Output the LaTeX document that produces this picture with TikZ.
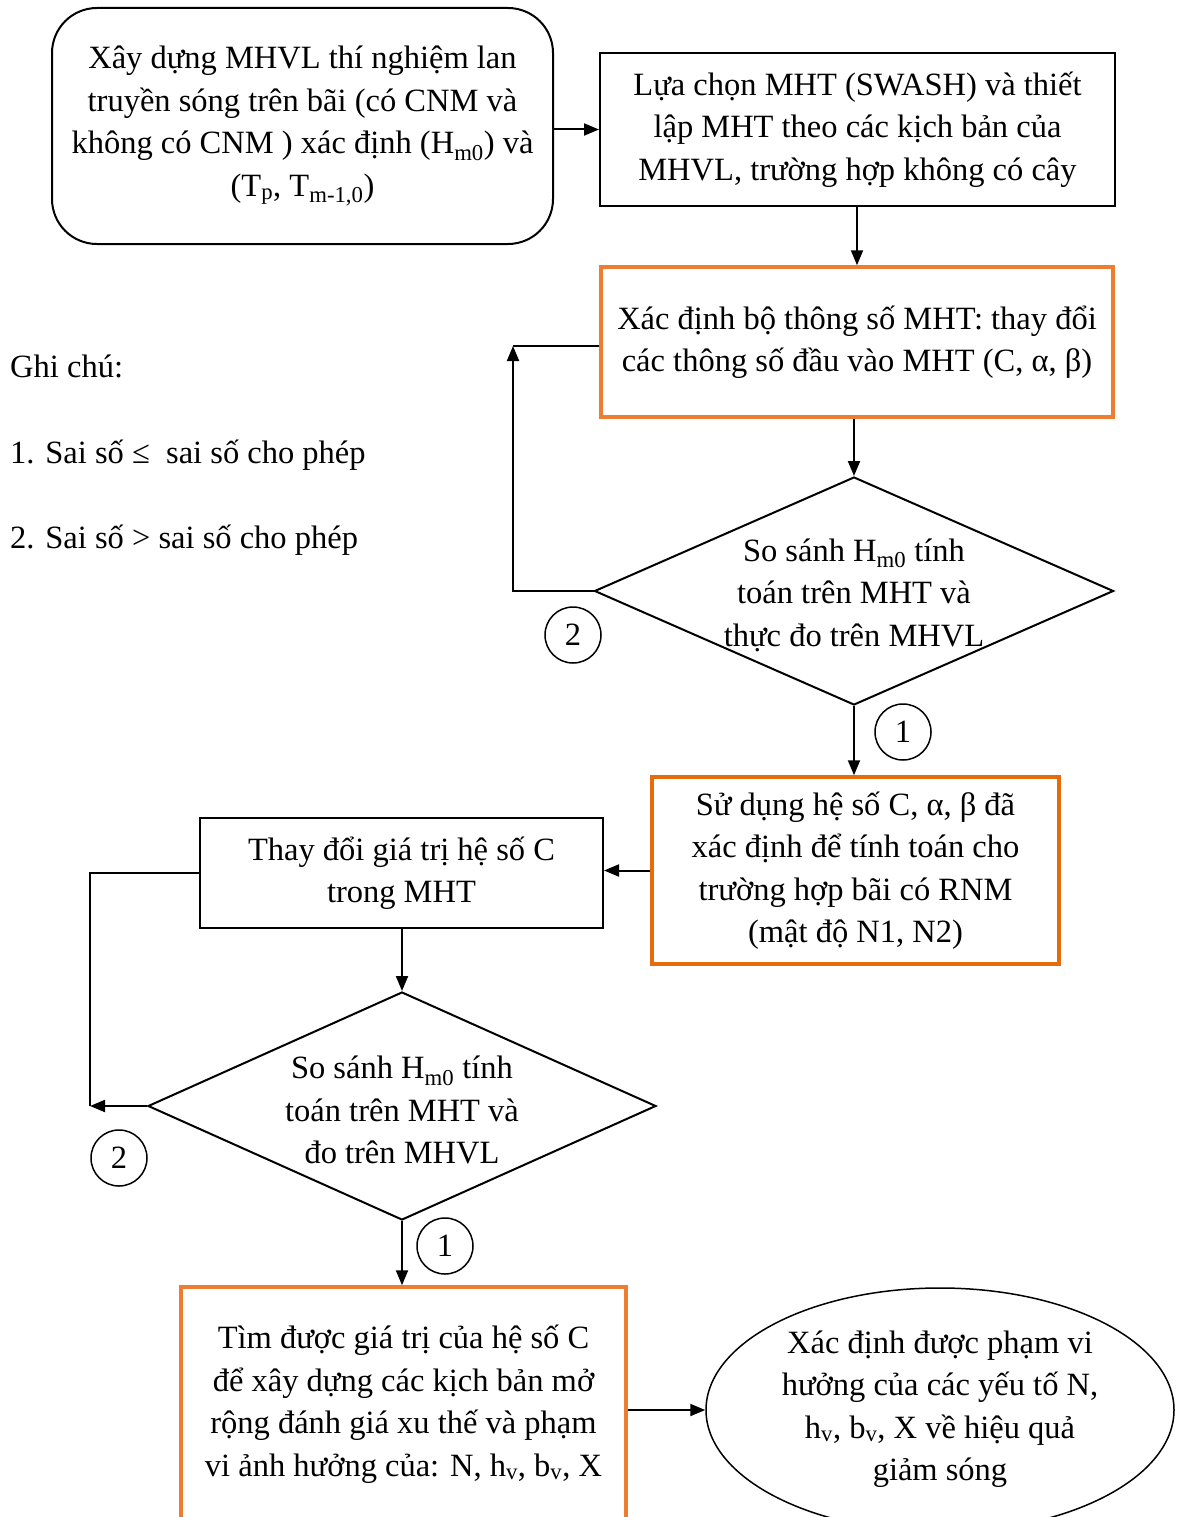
\documentclass[tikz,border=0pt]{standalone}
\usepackage{fontspec}
\setmainfont{Liberation Serif}
\usetikzlibrary{arrows.meta,shapes.geometric}
\definecolor{org}{HTML}{ED7D31}
\definecolor{orgd}{HTML}{E46C0A}
\begin{document}
\begin{tikzpicture}[x=1pt,y=-1pt,
 every node/.style={font=\fontsize{32.5}{42.5}\selectfont},
 txt/.style={align=center, inner sep=0},
 box/.style={draw, line width=2pt, inner sep=0, align=center},
 obox/.style={draw=org, line width=3.5pt, inner sep=0, align=center},
 arr/.style={line width=2pt, -{Triangle[length=15pt,width=12pt]}},
 ln/.style={line width=2pt},
 num/.style={draw, circle, line width=1.5pt, minimum size=56pt, inner sep=0}]
\useasboundingbox (0,0) rectangle (1176,1517);

% Box A
\node[box, rounded corners=45pt, minimum width=501pt, minimum height=236pt] (A) at (302.5,126)
 {Xây dựng MHVL thí nghiệm lan\\truyền sóng trên bãi (có CNM và\\không có CNM ) xác định (H\textsubscript{m0}) và\\(T\textsubscript{p}, T\textsubscript{m-1,0})};
% Box B
\node[box, minimum width=515pt, minimum height=153pt] (B) at (857.5,129.5)
 {Lựa chọn MHT (SWASH) và thiết\\lập MHT theo các kịch bản của\\MHVL, trường hợp không có cây};
% Box C
\node[obox, minimum width=512pt, minimum height=150pt] (C) at (857,342)
 {Xác định bộ thông số MHT: thay đổi\\các thông số đầu vào MHT (C, α, β)};
% Diamond D
\node[diamond, draw, line width=2pt, inner sep=0, minimum width=519pt, minimum height=228pt] (D) at (854,591) {};
\node[txt] (Dt) at (854,595) {So sánh H\textsubscript{m0} tính\\toán trên MHT và\\thực đo trên MHVL};
% Box E
\node[draw=orgd, line width=3.5pt, inner sep=0, align=center, minimum width=407pt, minimum height=187pt] (E) at (855.5,870.5)
 {Sử dụng hệ số C, α, β đã\\xác định để tính toán cho\\trường hợp bãi có RNM\\(mật độ N1, N2)};
% Box F
\node[box, minimum width=403pt, minimum height=110pt] (F) at (401.5,873)
 {Thay đổi giá trị hệ số C\\trong MHT};
% Diamond G
\node[diamond, draw, line width=2pt, inner sep=0, minimum width=508pt, minimum height=228pt] (G) at (402,1106) {};
\node[txt] (Gt) at (402,1110) {So sánh H\textsubscript{m0} tính\\toán trên MHT và\\đo trên MHVL};
% Box H
\node[obox, minimum width=445pt, minimum height=234pt] (H) at (403.5,1404)
 {Tìm được giá trị của hệ số C\\để xây dựng các kịch bản mở\\rộng đánh giá xu thế và phạm\\vi ảnh hưởng của: N, h\textsubscript{v}, b\textsubscript{v}, X};
% Ellipse I
\node[ellipse, draw, line width=1.5pt, inner sep=0, minimum width=468pt, minimum height=244pt] (I) at (940,1410) {};
\node[txt] (It) at (940,1409) {Xác định được phạm vi\\hưởng của các yếu tố N,\\h\textsubscript{v}, b\textsubscript{v}, X về hiệu quả\\giảm sóng};

% Legend
\node[anchor=base west, inner sep=0] (L0) at (10,377) {Ghi chú:};
\node[anchor=base west, inner sep=0] (L1) at (10,463) {1. Sai số ≤~ sai số cho phép};
\node[anchor=base west, inner sep=0] (L2) at (10,548) {2. Sai số > sai số cho phép};

% numbered circles
\node[num] (n2a) at (573,635) {2};
\node[num] (n1a) at (903,732) {1};
\node[num] (n2b) at (119,1158) {2};
\node[num] (n1b) at (445,1246) {1};

% connectors
\draw[arr] (A.east |- B.west) -- (B.west);
\draw[arr] (B.south -| 857,0) -- (C.north -| 857,0);
\draw[arr] (C.south -| 854,0) -- (D.north);
\coordinate (c2) at (513,346);
\draw[ln] (C.west |- c2) -- (c2);
\draw[arr] (D.west) -| (c2);
\draw[arr] (D.south) -- (D.south |- E.north);
\draw[arr] (E.west) -- (E.west -| F.east);
\draw[arr] (F.south -| G.north) -- (G.north);
\coordinate (g2) at (90,1106);
\draw[ln] (F.west) -| (g2);
\draw[arr] (G.west) -- (g2);
\draw[arr] (G.south) -- (G.south |- H.north);
\draw[arr] (I.west -| H.east) -- (I.west);
\end{tikzpicture}
\end{document}
